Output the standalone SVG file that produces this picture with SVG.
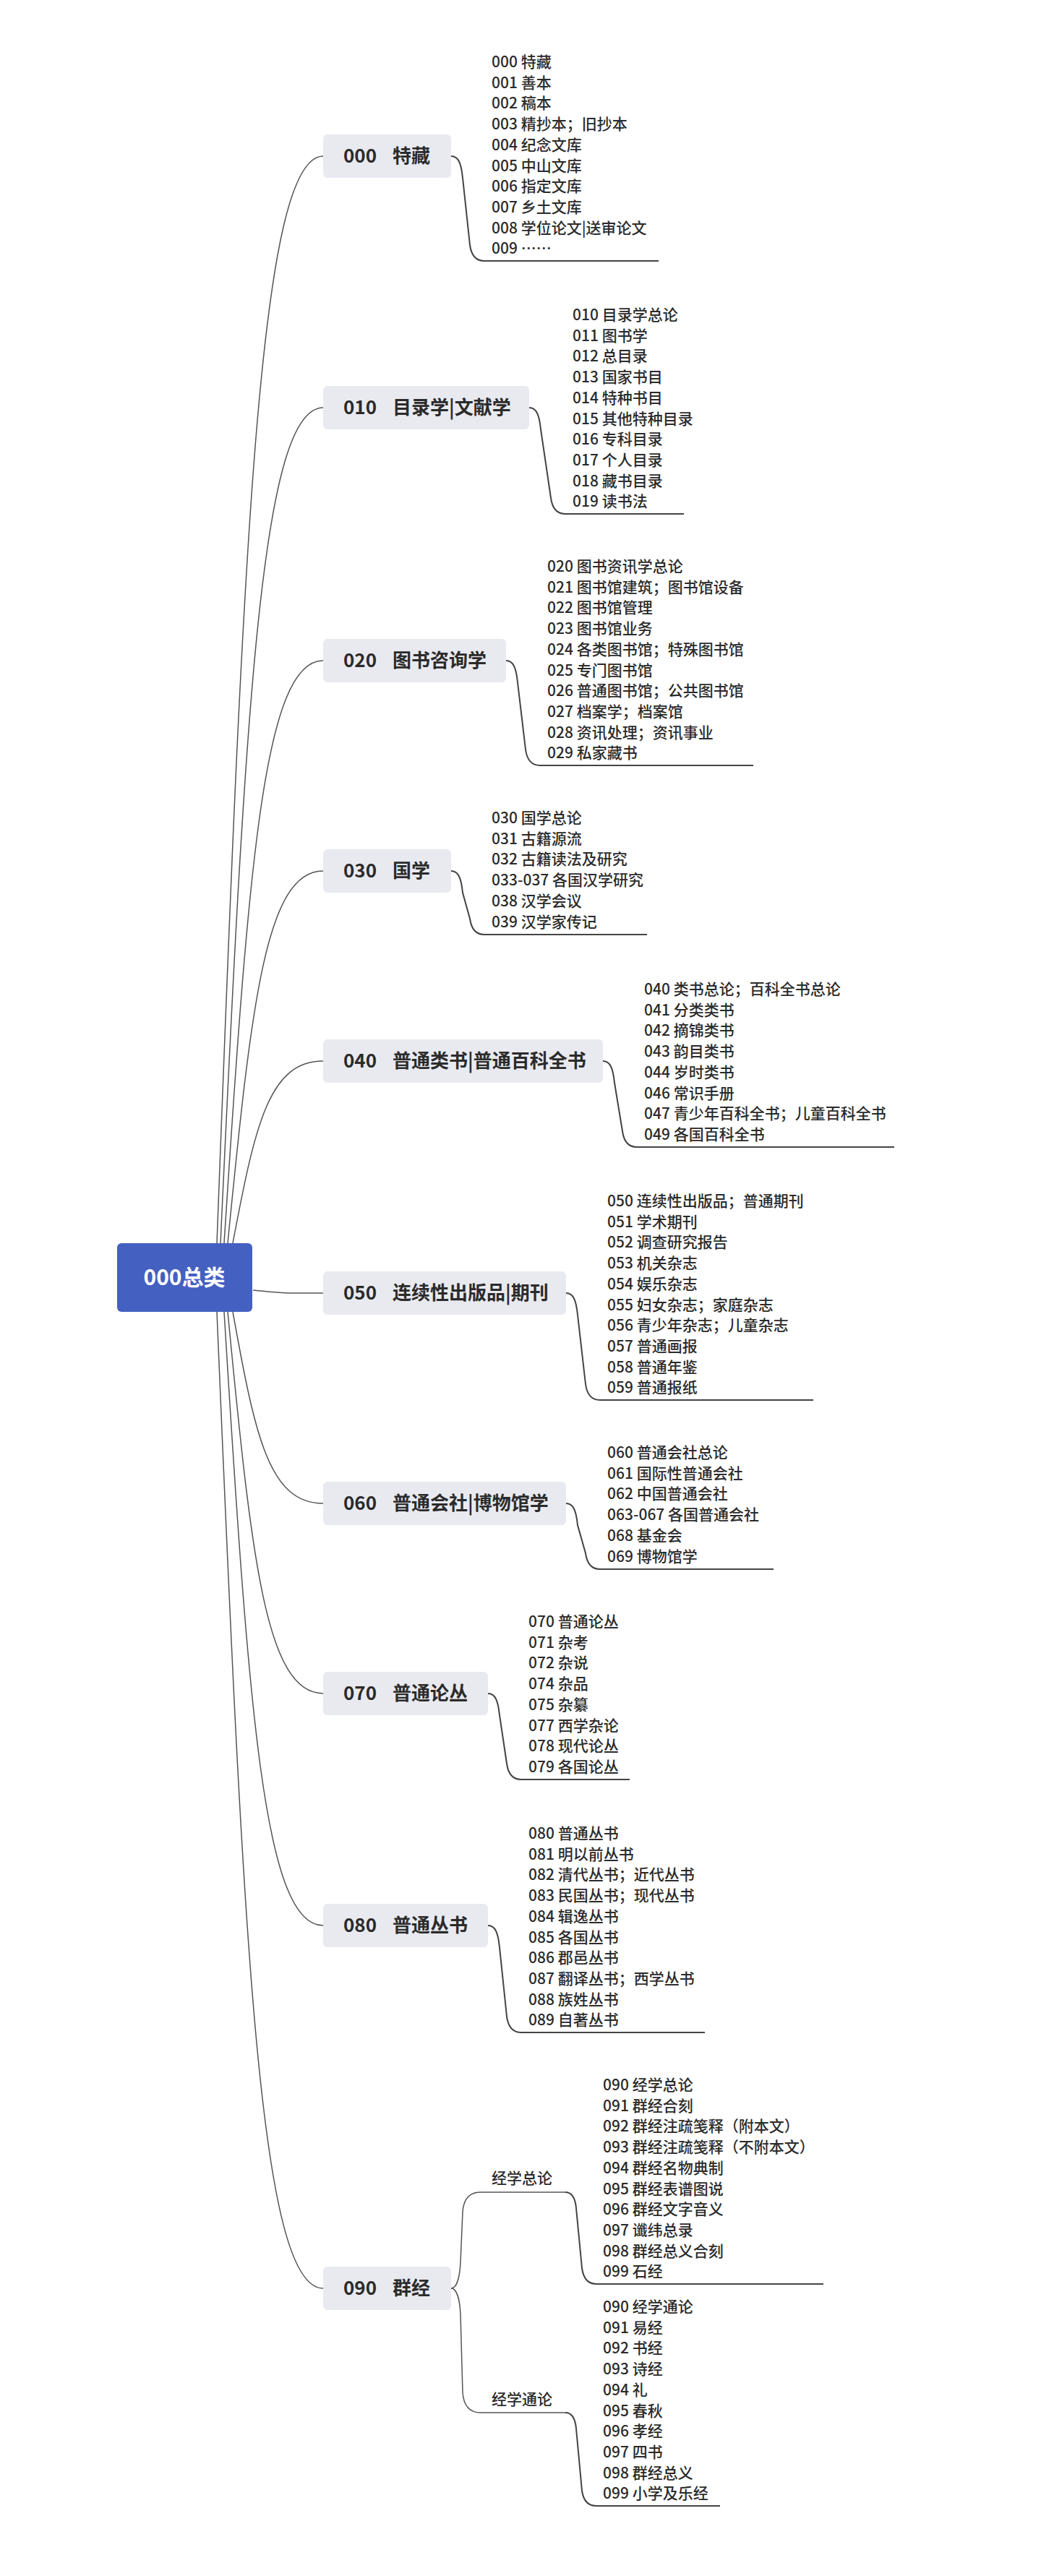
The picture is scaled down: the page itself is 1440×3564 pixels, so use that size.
<svg xmlns="http://www.w3.org/2000/svg" width="1440" height="3564" viewBox="0 0 1440 3564">
<style>
.bg{fill:#ffffff}
.box{fill:#E9EAF0}
.root{fill:#4460C0}
.nt{font-family:"Noto Sans CJK SC","Liberation Sans",sans-serif;font-size:26px;font-weight:700;fill:#2b2b2b}
.rt{font-family:"Noto Sans CJK SC","Liberation Sans",sans-serif;font-size:30px;font-weight:700;fill:#ffffff}
.li{font-family:"Noto Sans CJK SC","Liberation Sans",sans-serif;font-size:21px;font-weight:500;fill:#2b2b2b}
.c{fill:none;stroke:#555;stroke-width:1.5}
.u{fill:none;stroke:#444;stroke-width:2}
</style>
<rect class="bg" x="0" y="0" width="1440" height="3564"/>
<g id="connectors">
<path class="c" d="M350 1785 C400 1790 400 1789 447 1789"/>
<path class="c" d="M300 1720 C337 742 359 216 447 216"/>
<path class="c" d="M305 1720 C340 969 362 564 447 564"/>
<path class="c" d="M310 1720 C344 1196 365 914 447 914"/>
<path class="c" d="M315 1720 C348 1385 368 1205 447 1205"/>
<path class="c" d="M322 1720 C353 1556 372 1468 447 1468"/>
<path class="c" d="M322 1815 C353 1987 372 2080 447 2080"/>
<path class="c" d="M315 1815 C348 2158 368 2343 447 2343"/>
<path class="c" d="M310 1815 C344 2367 365 2664 447 2664"/>
<path class="c" d="M300 1815 C337 2693 359 3166 447 3166"/>
<path class="u" d="M624 216 C634 216 638 226 640 246 L650 339 Q653 361 670 361 L911 361"/>
<path class="u" d="M732 564 C742 564 746 574 748 594 L762 689 Q765 711 782 711 L946 711"/>
<path class="u" d="M700 914 C710 914 714 924 716 944 L727 1037 Q730 1059 747 1059 L1042 1059"/>
<path class="u" d="M624 1205 C634 1205 638 1215 640 1235 L650 1271 Q653 1293 670 1293 L895 1293"/>
<path class="u" d="M834 1468 C844 1468 848 1478 850 1498 L861 1565 Q864 1587 881 1587 L1237 1587"/>
<path class="u" d="M783 1789 C793 1789 797 1799 799 1819 L810 1915 Q813 1937 830 1937 L1125 1937"/>
<path class="u" d="M783 2080 C793 2080 797 2090 799 2110 L810 2149 Q813 2171 830 2171 L1070 2171"/>
<path class="u" d="M675 2343 C685 2343 689 2353 691 2373 L701 2440 Q704 2462 721 2462 L871 2462"/>
<path class="u" d="M675 2664 C685 2664 689 2674 691 2694 L701 2790 Q704 2812 721 2812 L975 2812"/>
<path class="c" d="M624 3166 C632 3166 636 3150 637 3130 L640 3060 Q642 3033 665 3033 L782 3033"/>
<path class="c" d="M624 3166 C632 3166 636 3182 637 3202 L640 3310 Q642 3338 665 3338 L782 3338"/>
<path class="u" d="M782 3033 Q795 3033 797 3055 L805 3138 Q808 3160 825 3160 L1139 3160"/>
<path class="u" d="M782 3338 Q795 3338 797 3360 L805 3446 Q808 3467 825 3467 L996 3467"/>
</g>
<g id="root"><rect class="root" x="162" y="1720" width="187" height="95" rx="6"/><text class="rt" x="255" y="1778" text-anchor="middle">000总类</text></g>
<g id="n000"><rect class="box" x="447" y="186" width="177" height="60" rx="6"/><text class="nt" y="225"><tspan x="475">000</tspan><tspan x="543">特藏</tspan></text>
<text class="li" x="680" y="93"><tspan x="680">000 特藏</tspan><tspan x="680" dy="28.7">001 善本</tspan><tspan x="680" dy="28.7">002 稿本</tspan><tspan x="680" dy="28.7">003 精抄本；旧抄本</tspan><tspan x="680" dy="28.7">004 纪念文库</tspan><tspan x="680" dy="28.7">005 中山文库</tspan><tspan x="680" dy="28.7">006 指定文库</tspan><tspan x="680" dy="28.7">007 乡土文库</tspan><tspan x="680" dy="28.7">008 学位论文|送审论文</tspan><tspan x="680" dy="28.7">009 ……</tspan></text></g>
<g id="n010"><rect class="box" x="447" y="534" width="285" height="60" rx="6"/><text class="nt" y="573"><tspan x="475">010</tspan><tspan x="543">目录学|文献学</tspan></text>
<text class="li" y="443"><tspan x="792">010 目录学总论</tspan><tspan x="792" dy="28.7">011 图书学</tspan><tspan x="792" dy="28.7">012 总目录</tspan><tspan x="792" dy="28.7">013 国家书目</tspan><tspan x="792" dy="28.7">014 特种书目</tspan><tspan x="792" dy="28.7">015 其他特种目录</tspan><tspan x="792" dy="28.7">016 专科目录</tspan><tspan x="792" dy="28.7">017 个人目录</tspan><tspan x="792" dy="28.7">018 藏书目录</tspan><tspan x="792" dy="28.7">019 读书法</tspan></text></g>
<g id="n020"><rect class="box" x="447" y="884" width="253" height="60" rx="6"/><text class="nt" y="923"><tspan x="475">020</tspan><tspan x="543">图书咨询学</tspan></text>
<text class="li" y="791"><tspan x="757">020 图书资讯学总论</tspan><tspan x="757" dy="28.7">021 图书馆建筑；图书馆设备</tspan><tspan x="757" dy="28.7">022 图书馆管理</tspan><tspan x="757" dy="28.7">023 图书馆业务</tspan><tspan x="757" dy="28.7">024 各类图书馆；特殊图书馆</tspan><tspan x="757" dy="28.7">025 专门图书馆</tspan><tspan x="757" dy="28.7">026 普通图书馆；公共图书馆</tspan><tspan x="757" dy="28.7">027 档案学；档案馆</tspan><tspan x="757" dy="28.7">028 资讯处理；资讯事业</tspan><tspan x="757" dy="28.7">029 私家藏书</tspan></text></g>
<g id="n030"><rect class="box" x="447" y="1175" width="177" height="60" rx="6"/><text class="nt" y="1214"><tspan x="475">030</tspan><tspan x="543">国学</tspan></text>
<text class="li" y="1139"><tspan x="680">030 国学总论</tspan><tspan x="680" dy="28.7">031 古籍源流</tspan><tspan x="680" dy="28.7">032 古籍读法及研究</tspan><tspan x="680" dy="28.7">033-037 各国汉学研究</tspan><tspan x="680" dy="28.7">038 汉学会议</tspan><tspan x="680" dy="28.7">039 汉学家传记</tspan></text></g>
<g id="n040"><rect class="box" x="447" y="1438" width="387" height="60" rx="6"/><text class="nt" y="1477"><tspan x="475">040</tspan><tspan x="543">普通类书|普通百科全书</tspan></text>
<text class="li" y="1376"><tspan x="891">040 类书总论；百科全书总论</tspan><tspan x="891" dy="28.7">041 分类类书</tspan><tspan x="891" dy="28.7">042 摘锦类书</tspan><tspan x="891" dy="28.7">043 韵目类书</tspan><tspan x="891" dy="28.7">044 岁时类书</tspan><tspan x="891" dy="28.7">046 常识手册</tspan><tspan x="891" dy="28.7">047 青少年百科全书；儿童百科全书</tspan><tspan x="891" dy="28.7">049 各国百科全书</tspan></text></g>
<g id="n050"><rect class="box" x="447" y="1759" width="336" height="60" rx="6"/><text class="nt" y="1798"><tspan x="475">050</tspan><tspan x="543">连续性出版品|期刊</tspan></text>
<text class="li" y="1669"><tspan x="840">050 连续性出版品；普通期刊</tspan><tspan x="840" dy="28.7">051 学术期刊</tspan><tspan x="840" dy="28.7">052 调查研究报告</tspan><tspan x="840" dy="28.7">053 机关杂志</tspan><tspan x="840" dy="28.7">054 娱乐杂志</tspan><tspan x="840" dy="28.7">055 妇女杂志；家庭杂志</tspan><tspan x="840" dy="28.7">056 青少年杂志；儿童杂志</tspan><tspan x="840" dy="28.7">057 普通画报</tspan><tspan x="840" dy="28.7">058 普通年鉴</tspan><tspan x="840" dy="28.7">059 普通报纸</tspan></text></g>
<g id="n060"><rect class="box" x="447" y="2050" width="336" height="60" rx="6"/><text class="nt" y="2089"><tspan x="475">060</tspan><tspan x="543">普通会社|博物馆学</tspan></text>
<text class="li" y="2017"><tspan x="840">060 普通会社总论</tspan><tspan x="840" dy="28.7">061 国际性普通会社</tspan><tspan x="840" dy="28.7">062 中国普通会社</tspan><tspan x="840" dy="28.7">063-067 各国普通会社</tspan><tspan x="840" dy="28.7">068 基金会</tspan><tspan x="840" dy="28.7">069 博物馆学</tspan></text></g>
<g id="n070"><rect class="box" x="447" y="2313" width="228" height="60" rx="6"/><text class="nt" y="2352"><tspan x="475">070</tspan><tspan x="543">普通论丛</tspan></text>
<text class="li" y="2251"><tspan x="731">070 普通论丛</tspan><tspan x="731" dy="28.7">071 杂考</tspan><tspan x="731" dy="28.7">072 杂说</tspan><tspan x="731" dy="28.7">074 杂品</tspan><tspan x="731" dy="28.7">075 杂纂</tspan><tspan x="731" dy="28.7">077 西学杂论</tspan><tspan x="731" dy="28.7">078 现代论丛</tspan><tspan x="731" dy="28.7">079 各国论丛</tspan></text></g>
<g id="n080"><rect class="box" x="447" y="2634" width="228" height="60" rx="6"/><text class="nt" y="2673"><tspan x="475">080</tspan><tspan x="543">普通丛书</tspan></text>
<text class="li" y="2544"><tspan x="731">080 普通丛书</tspan><tspan x="731" dy="28.7">081 明以前丛书</tspan><tspan x="731" dy="28.7">082 清代丛书；近代丛书</tspan><tspan x="731" dy="28.7">083 民国丛书；现代丛书</tspan><tspan x="731" dy="28.7">084 辑逸丛书</tspan><tspan x="731" dy="28.7">085 各国丛书</tspan><tspan x="731" dy="28.7">086 郡邑丛书</tspan><tspan x="731" dy="28.7">087 翻译丛书；西学丛书</tspan><tspan x="731" dy="28.7">088 族姓丛书</tspan><tspan x="731" dy="28.7">089 自著丛书</tspan></text></g>
<g id="n090"><rect class="box" x="447" y="3136" width="177" height="60" rx="6"/><text class="nt" y="3175"><tspan x="475">090</tspan><tspan x="543">群经</tspan></text></g>
<g id="n090a"><text class="li" x="680" y="3021">经学总论</text>
<text class="li" y="2892"><tspan x="834">090 经学总论</tspan><tspan x="834" dy="28.7">091 群经合刻</tspan><tspan x="834" dy="28.7">092 群经注疏笺释（附本文）</tspan><tspan x="834" dy="28.7">093 群经注疏笺释（不附本文）</tspan><tspan x="834" dy="28.7">094 群经名物典制</tspan><tspan x="834" dy="28.7">095 群经表谱图说</tspan><tspan x="834" dy="28.7">096 群经文字音义</tspan><tspan x="834" dy="28.7">097 谶纬总录</tspan><tspan x="834" dy="28.7">098 群经总义合刻</tspan><tspan x="834" dy="28.7">099 石经</tspan></text></g>
<g id="n090b"><text class="li" x="680" y="3327">经学通论</text>
<text class="li" y="3199"><tspan x="834">090 经学通论</tspan><tspan x="834" dy="28.7">091 易经</tspan><tspan x="834" dy="28.7">092 书经</tspan><tspan x="834" dy="28.7">093 诗经</tspan><tspan x="834" dy="28.7">094 礼</tspan><tspan x="834" dy="28.7">095 春秋</tspan><tspan x="834" dy="28.7">096 孝经</tspan><tspan x="834" dy="28.7">097 四书</tspan><tspan x="834" dy="28.7">098 群经总义</tspan><tspan x="834" dy="28.7">099 小学及乐经</tspan></text></g>
</svg>
